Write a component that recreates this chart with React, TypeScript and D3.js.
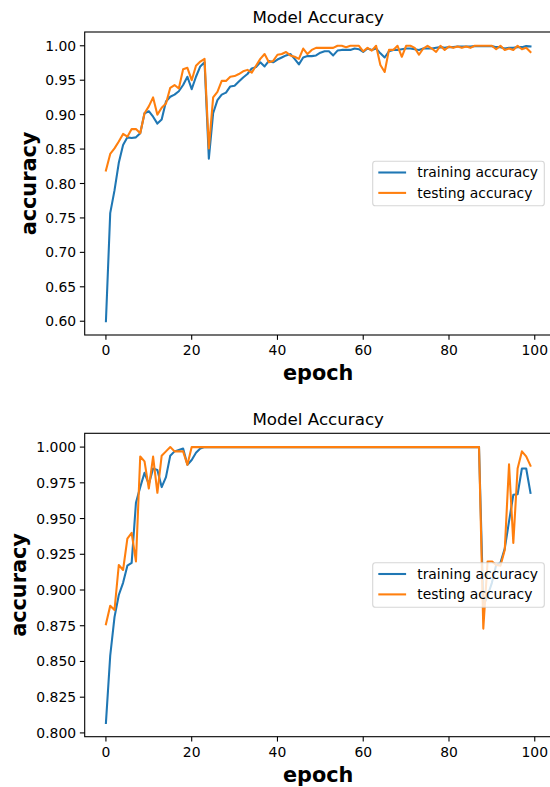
import React from "react";
import * as d3 from "d3";

// Epoch indices shared by both runs
const epochs: number[] = Array.from({ length: 100 }, (_, i) => i);

// Run 1
const trainAcc1: number[] = [
  0.600, 0.757, 0.790, 0.830, 0.856, 0.867, 0.866, 0.867, 0.873, 0.902,
  0.905, 0.897, 0.887, 0.893, 0.919, 0.926, 0.929, 0.934, 0.943, 0.955,
  0.937, 0.955, 0.970, 0.976, 0.836, 0.902, 0.921, 0.929, 0.932, 0.941,
  0.942, 0.948, 0.954, 0.959, 0.967, 0.969, 0.976, 0.970, 0.978, 0.976,
  0.980, 0.983, 0.986, 0.988, 0.981, 0.973, 0.983, 0.985, 0.985, 0.986,
  0.990, 0.992, 0.992, 0.986, 0.993, 0.994, 0.994, 0.994, 0.996, 0.995,
  0.991, 0.996, 0.994, 0.996, 0.989, 0.983, 0.992, 0.994, 0.994, 0.995,
  0.996, 0.996, 0.995, 0.994, 0.996, 0.996, 0.996, 0.997, 0.998, 0.997,
  0.998, 0.998, 0.999, 0.999, 0.999, 0.999, 0.9995, 0.9995, 0.9995, 0.9995,
  0.9995, 0.998, 0.998, 0.996, 0.997, 0.997, 0.998, 0.998, 0.9995, 0.999,
];
const testAcc1: number[] = [
  0.819, 0.843, 0.851, 0.861, 0.872, 0.868, 0.879, 0.879, 0.873, 0.902,
  0.912, 0.925, 0.900, 0.910, 0.916, 0.939, 0.943, 0.938, 0.966, 0.968,
  0.950, 0.971, 0.977, 0.981, 0.851, 0.925, 0.933, 0.949, 0.949, 0.955,
  0.956, 0.959, 0.963, 0.965, 0.961, 0.971, 0.981, 0.988, 0.976, 0.978,
  0.987, 0.988, 0.991, 0.986, 0.984, 0.981, 0.996, 0.988, 0.994, 0.997,
  0.997, 0.997, 0.997, 0.997, 1.000, 1.000, 0.998, 1.000, 1.000, 1.000,
  0.992, 0.997, 0.993, 1.000, 0.972, 0.962, 0.994, 0.994, 1.000, 0.984,
  1.000, 1.000, 0.997, 0.987, 0.996, 1.000, 0.996, 0.991, 1.000, 0.994,
  0.999, 0.997, 0.999, 0.997, 0.999, 0.997, 1.000, 1.000, 1.000, 1.000,
  1.000, 0.995, 1.000, 0.994, 0.996, 0.994, 1.000, 0.995, 0.997, 0.991,
];

// Run 2
const trainAcc2: number[] = [
  0.807, 0.854, 0.881, 0.8965, 0.905, 0.917, 0.919, 0.961, 0.972, 0.982,
  0.974, 0.985, 0.984, 0.972, 0.979, 0.994, 0.997, 0.998, 0.999, 0.9876,
  0.991, 0.996, 0.999, 1, 1, 1, 1, 1, 1, 1,
  1, 1, 1, 1, 1, 1, 1, 1, 1, 1,
  1, 1, 1, 1, 1, 1, 1, 1, 1, 1,
  1, 1, 1, 1, 1, 1, 1, 1, 1, 1,
  1, 1, 1, 1, 1, 1, 1, 1, 1, 1,
  1, 1, 1, 1, 1, 1, 1, 1, 1, 1,
  1, 1, 1, 1, 1, 1, 1, 1, 0.889, 0.896,
  0.905, 0.9175, 0.919, 0.929, 0.948, 0.9666, 0.967, 0.985, 0.985, 0.968,
];
const testAcc2: number[] = [
  0.876, 0.889, 0.886, 0.9175, 0.914, 0.936, 0.940, 0.920, 0.9934, 0.990,
  0.971, 0.9934, 0.968, 0.994, 0.997, 1.000, 0.997, 0.997, 0.997, 0.9876,
  1, 1, 1, 1, 1, 1, 1, 1, 1, 1,
  1, 1, 1, 1, 1, 1, 1, 1, 1, 1,
  1, 1, 1, 1, 1, 1, 1, 1, 1, 1,
  1, 1, 1, 1, 1, 1, 1, 1, 1, 1,
  1, 1, 1, 1, 1, 1, 1, 1, 1, 1,
  1, 1, 1, 1, 1, 1, 1, 1, 1, 1,
  1, 1, 1, 1, 1, 1, 1, 1, 0.873, 0.920,
  0.920, 0.9175, 0.917, 0.928, 0.988, 0.933, 0.985, 0.997, 0.9935, 0.987,
];

const xTicks: number[] = [0, 20, 40, 60, 80, 100];
const yTicks1: number[] = [0.6, 0.65, 0.7, 0.75, 0.8, 0.85, 0.9, 0.95, 1.0];
const yTicks2: number[] = [0.8, 0.825, 0.85, 0.875, 0.9, 0.925, 0.95, 0.975, 1.0];
const seriesNames: string[] = ["training accuracy", "testing accuracy"];

const COLORS = ["#1f77b4", "#ff7f0e"];
const FONT = "DejaVu Sans, sans-serif";
const TICK_LEN = 4.86;
const SPINE_W = 1.1;

type PanelProps = {
  top: number;
  bottom: number;
  yDomain: [number, number];
  yTicks: number[];
  yFormat: string;
  yLabelX: number;
  train: number[];
  test: number[];
  clipId: string;
};

const LEFT = 84.7;
const RIGHT = 551.7;

function Panel({ top, bottom, yDomain, yTicks, yFormat, yLabelX, train, test, clipId }: PanelProps) {
  const x = d3.scaleLinear().domain([-4.95, 103.95]).range([LEFT, RIGHT]);
  const y = d3.scaleLinear().domain(yDomain).range([bottom, top]);
  const fmt = d3.format(yFormat);
  const line = d3
    .line<number>()
    .x((_, i) => x(epochs[i]))
    .y((d) => y(d));

  const midX = (LEFT + RIGHT) / 2;
  const midY = (top + bottom) / 2;

  // legend geometry (centre right)
  const legW = 171.6;
  const legH = 44.6;
  const legX = RIGHT - 7.4 - legW;
  const legY = midY - legH / 2;
  const rows = [legY + 11.3, legY + 31.7];

  return (
    <g>
      <defs>
        <clipPath id={clipId}>
          <rect x={LEFT} y={top} width={RIGHT - LEFT} height={bottom - top} />
        </clipPath>
      </defs>
      <text x={midX} y={top - 8.6} textAnchor="middle" fontSize={16.7} fontFamily={FONT} fill="#000">
        Model Accuracy
      </text>

      <g clipPath={`url(#${clipId})`}>
        <path d={line(train) || ""} fill="none" stroke={COLORS[0]} strokeWidth={2.08} strokeLinejoin="round" strokeLinecap="square" />
        <path d={line(test) || ""} fill="none" stroke={COLORS[1]} strokeWidth={2.08} strokeLinejoin="round" strokeLinecap="square" />
      </g>

      {/* spines */}
      <rect x={LEFT} y={top} width={RIGHT - LEFT} height={bottom - top} fill="none" stroke="#000" strokeWidth={SPINE_W} />

      {/* x axis */}
      {xTicks.map((t) => (
        <g key={`x${t}`}>
          <line x1={x(t)} x2={x(t)} y1={bottom} y2={bottom + TICK_LEN} stroke="#000" strokeWidth={SPINE_W} />
          <text x={x(t)} y={bottom + 20} textAnchor="middle" fontSize={13.9} fontFamily={FONT} fill="#000">
            {t}
          </text>
        </g>
      ))}
      <text x={midX} y={bottom + 45} textAnchor="middle" fontSize={20.8} fontWeight="bold" fontFamily={FONT} fill="#000">
        epoch
      </text>

      {/* y axis */}
      {yTicks.map((t) => (
        <g key={`y${t}`}>
          <line x1={LEFT - TICK_LEN} x2={LEFT} y1={y(t)} y2={y(t)} stroke="#000" strokeWidth={SPINE_W} />
          <text x={LEFT - 8.6} y={y(t) + 5} textAnchor="end" fontSize={13.9} fontFamily={FONT} fill="#000">
            {fmt(t)}
          </text>
        </g>
      ))}
      <text
        transform={`translate(${yLabelX},${midY}) rotate(-90)`}
        textAnchor="middle"
        fontSize={20.8}
        fontWeight="bold"
        fontFamily={FONT}
        fill="#000"
      >
        accuracy
      </text>

      {/* legend */}
      <rect x={legX} y={legY} width={legW} height={legH} rx={2.8} ry={2.8} fill="#fff" fillOpacity={0.8} stroke="#cccccc" strokeOpacity={0.8} strokeWidth={1.1} />
      {seriesNames.map((name, i) => (
        <g key={name}>
          <line x1={legX + 5.6} x2={legX + 33.4} y1={rows[i]} y2={rows[i]} stroke={COLORS[i]} strokeWidth={2.08} />
          <text x={legX + 44.5} y={rows[i] + 4.8} fontSize={13.9} fontFamily={FONT} fill="#000">
            {name}
          </text>
        </g>
      ))}
    </g>
  );
}

export default function App() {
  return (
    <svg
      width={550}
      height={787}
      style={{ position: "absolute", left: 0, top: 0, background: "#fff" }}
      xmlns="http://www.w3.org/2000/svg"
    >
      <rect x={0} y={0} width={550} height={787} fill="#fff" />
      <Panel
        top={32}
        bottom={335}
        yDomain={[0.58, 1.02]}
        yTicks={yTicks1}
        yFormat=".2f"
        yLabelX={35.5}
        train={trainAcc1}
        test={testAcc1}
        clipId="clip-a"
      />
      <Panel
        top={433.3}
        bottom={736.7}
        yDomain={[0.79735, 1.00965]}
        yTicks={yTicks2}
        yFormat=".3f"
        yLabelX={25.5}
        train={trainAcc2}
        test={testAcc2}
        clipId="clip-b"
      />
    </svg>
  );
}
